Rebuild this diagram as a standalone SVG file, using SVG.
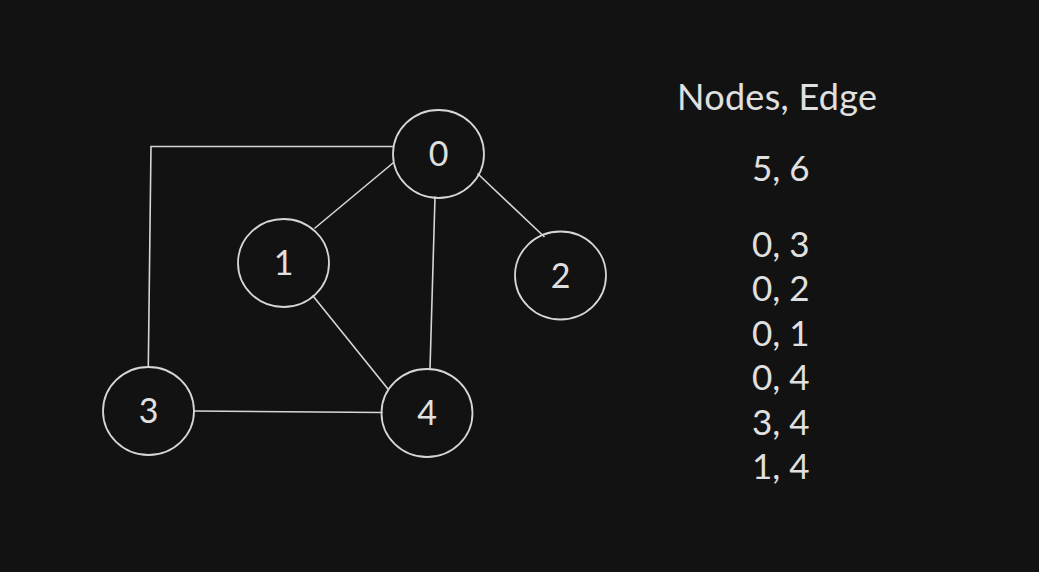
<svg xmlns="http://www.w3.org/2000/svg" width="1039" height="572" viewBox="0 0 1039 572">
<style>
.n{fill:none;stroke:#d6d6d6;stroke-width:1.8}
.c{fill:none;stroke:#d6d6d6;stroke-width:1.6;stroke-linecap:round}
.l{font-family:Lato,"Open Sans","Liberation Sans",sans-serif;fill:#e0e0e0;font-size:34px;text-anchor:middle}
.t{font-family:Lato,"Open Sans","Liberation Sans",sans-serif;fill:#e0e0e0;font-size:35px}
</style>
<rect width="1039" height="572" fill="#121212"/>
<g id="connectors">
<polyline class="c" points="393,146.5 151,146.5 148.3,366"/>
<line class="c" x1="393" y1="163" x2="315" y2="228"/>
<line class="c" x1="478" y1="174" x2="544" y2="236.5"/>
<line class="c" x1="435" y1="197" x2="430" y2="369"/>
<line class="c" x1="313" y1="296" x2="388" y2="389"/>
<line class="c" x1="194" y1="411" x2="382" y2="412.5"/>
</g>
<g id="node0"><ellipse class="n" cx="438.5" cy="154" rx="45.5" ry="44"/><text class="l" x="438.5" y="166">0</text></g>
<g id="node1"><ellipse class="n" cx="283.5" cy="263" rx="45.5" ry="44"/><text class="l" x="283.5" y="275">1</text></g>
<g id="node2"><ellipse class="n" cx="560.5" cy="275.5" rx="45.5" ry="44"/><text class="l" x="560.5" y="287.5">2</text></g>
<g id="node3"><ellipse class="n" cx="148.5" cy="411" rx="45.5" ry="44"/><text class="l" x="148.5" y="423">3</text></g>
<g id="node4"><ellipse class="n" cx="427" cy="413" rx="45.5" ry="44"/><text class="l" x="427" y="425">4</text></g>
<g id="legend">
<text class="t" x="677" y="110" style="font-size:36px" textLength="200" lengthAdjust="spacing">Nodes, Edge</text>
<text class="t" x="752" y="181">5, 6</text>
<text class="t" x="752" y="257">0, 3</text>
<text class="t" x="752" y="301">0, 2</text>
<text class="t" x="752" y="346">0, 1</text>
<text class="t" x="752" y="390">0, 4</text>
<text class="t" x="752" y="435">3, 4</text>
<text class="t" x="752" y="479">1, 4</text>
</g>
</svg>
